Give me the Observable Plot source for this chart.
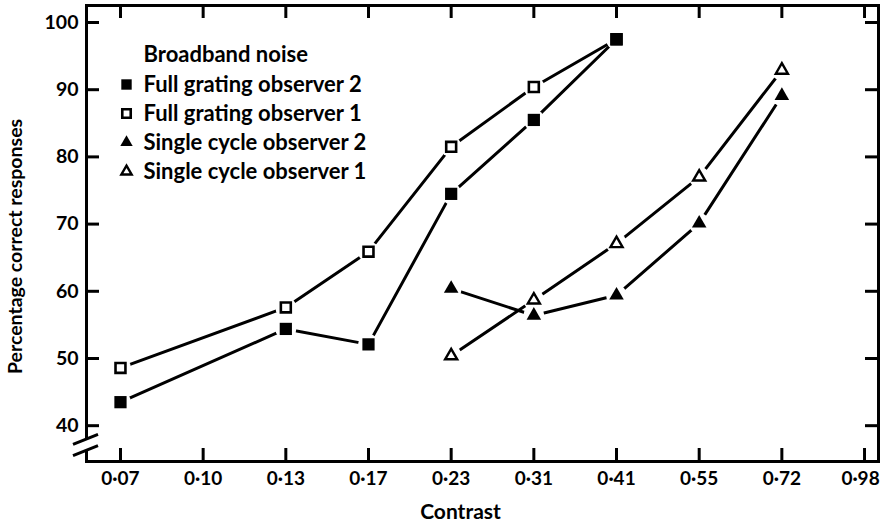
<!DOCTYPE html>
<html><head><meta charset="utf-8">
<script src="https://cdn.jsdelivr.net/npm/d3@7"></script>
<script src="https://cdn.jsdelivr.net/npm/@observablehq/plot@0.6"></script>
<style>
html,body{margin:0;padding:0;background:#fff;}
#chart svg{display:block;}
</style></head><body><div id="chart"></div>
<script>
// ---- data ----
const contrasts = ["0·07","0·10","0·13","0·17","0·23","0·31","0·41","0·55","0·72","0·98"];
const yTicks = [40, 50, 60, 70, 80, 90, 100];
const seriesNames = ["Full grating observer 2","Full grating observer 1","Single cycle observer 2","Single cycle observer 1"];
const legendTitle = "Broadband noise";
const fullGratingObs2 = [["0·07",43.5],["0·13",54.4],["0·17",52.1],["0·23",74.5],["0·31",85.5],["0·41",97.5]];
const fullGratingObs1 = [["0·07",48.6],["0·13",57.6],["0·17",65.9],["0·23",81.5],["0·31",90.4],["0·41",97.5]];
const singleCycleObs2 = [["0·23",60.4],["0·31",56.4],["0·41",59.4],["0·55",70.1],["0·72",89.1]];
const singleCycleObs1 = [["0·23",50.4],["0·31",58.7],["0·41",67.1],["0·55",77.0],["0·72",92.9]];
const axisBreakValues = [37.95, 36.3];

// ---- build table ----
const seriesData = [fullGratingObs2, fullGratingObs1, singleCycleObs2, singleCycleObs1];
const rows = seriesData.flatMap((s, k) => s.map(([c, v]) => ({series: seriesNames[k], k, c, i: contrasts.indexOf(c), v})));
const bySeries = k => rows.filter(d => d.k === k);

const styles = [
  {symbol: "square", r: 6.9, fill: "black", stroke: "none", strokeWidth: 0},
  {symbol: "square", r: 5.6, fill: "white", stroke: "black", strokeWidth: 2.6},
  {symbol: "triangle", r: 5.4, fill: "black", stroke: "none", strokeWidth: 0},
  {symbol: "triangle", r: 4.5, fill: "white", stroke: "black", strokeWidth: 2.4}
];

const W = 881, H = 524, mL = 86, mR = 3, mT = 5, mB = 63;
const innerW = W - mL - mR, innerH = H - mT - mB;
const tickLen = 13;
const idx = d3.range(contrasts.length);
const FONT = 700;

function axisBreak(index, scales, values, dims) {
  const y = scales.y;
  const x0 = dims.marginLeft;
  const yA = y(axisBreakValues[0]), yB = y(axisBreakValues[1]);
  const g = d3.create("svg:g");
  g.append("rect").attr("x", x0 - 3).attr("y", yA).attr("width", 6).attr("height", yB - yA).attr("fill", "white");
  for (const yy of [yA, yB]) {
    g.append("line").attr("x1", x0 - 13).attr("y1", yy + 5.5).attr("x2", x0 + 12).attr("y2", yy - 4.5)
      .attr("stroke", "black").attr("stroke-width", 3);
  }
  return g.node();
}

const marks = [
  Plot.frame({stroke: "black", strokeWidth: 3}),
  // inward ticks
  Plot.tickX(idx, {x: d => d, insetTop: innerH - tickLen, stroke: "black", strokeWidth: 3}),
  Plot.tickX(idx, {x: d => d, insetBottom: innerH - tickLen, stroke: "black", strokeWidth: 3}),
  Plot.tickY(yTicks, {y: d => d, insetRight: innerW - tickLen, stroke: "black", strokeWidth: 3}),
  Plot.tickY(yTicks, {y: d => d, insetLeft: innerW - tickLen, stroke: "black", strokeWidth: 3}),
  axisBreak,
  Plot.axisX(idx.slice(0, -1), {tickFormat: i => contrasts[i], tickSize: 0, tickPadding: 10, label: null, fontSize: 19, fontWeight: FONT}),
  Plot.axisX(idx.slice(-1), {tickFormat: i => contrasts[i], tickSize: 0, tickPadding: 10, label: null, fontSize: 19, fontWeight: FONT, dx: -4}),
  Plot.axisY(yTicks, {tickSize: 0, tickPadding: 8, label: null, fontSize: 19.5, fontWeight: FONT}),
  Plot.text(["Contrast"], {frameAnchor: "bottom", dx: -22, dy: 51, lineAnchor: "middle", fontSize: 21, fontWeight: FONT}),
  Plot.text(["Percentage correct responses"], {frameAnchor: "left", rotate: -90, dx: -71, dy: 13, lineAnchor: "middle", textAnchor: "middle", fontSize: 19.5, fontWeight: FONT}),
  // lines
  Plot.line(rows, {x: "i", y: "v", z: "series", stroke: "black", strokeWidth: 3}),
  // white gaps around markers
  Plot.dot(rows, {x: "i", y: "v", r: 10.5, fill: "white", stroke: "none"}),
  // markers (open squares first, so the filled one covers the shared point)
  ...[1, 0, 3, 2].map(k => Plot.dot(bySeries(k), {x: "i", y: "v", ...styles[k]})),
  // legend
  Plot.text([legendTitle], {frameAnchor: "top-left", dx: 57, dy: 49, lineAnchor: "middle", textAnchor: "start", fontSize: 22, fontWeight: FONT}),
  ...seriesNames.flatMap((name, k) => [
    Plot.dot([name], {frameAnchor: "top-left", dx: 40, dy: 79 + 29 * k, ...styles[k], r: styles[k].r * 0.85}),
    Plot.text([name], {frameAnchor: "top-left", dx: 57, dy: 79 + 29 * k, lineAnchor: "middle", textAnchor: "start", fontSize: 22, fontWeight: FONT})
  ])
];

const chart = Plot.plot({
  width: W, height: H,
  marginLeft: mL, marginRight: mR, marginTop: mT, marginBottom: mB,
  style: {fontFamily: "Lato, 'Open Sans', sans-serif", fontSize: "19px", color: "black", background: "white"},
  x: {type: "linear", domain: [-0.411, 9.169], axis: null},
  y: {type: "linear", domain: [34.67, 102.53], axis: null},
  marks
});
document.getElementById("chart").append(chart);
</script>
</body></html>
